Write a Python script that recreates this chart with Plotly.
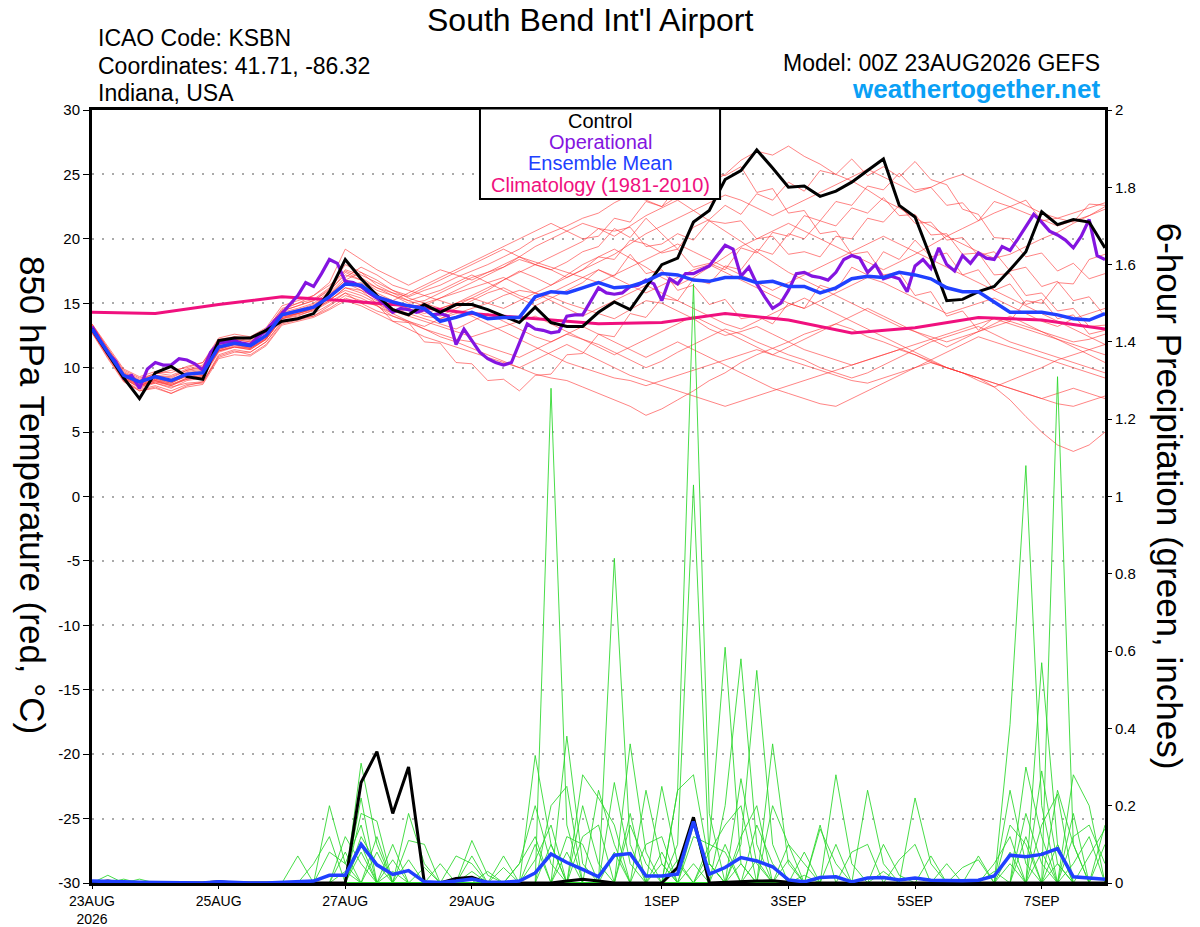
import pandas as pd
import plotly.graph_objects as go

# GEFS 00Z 23AUG2026 run, 6-hourly out to 384 h (operational GFS every 3 h)
run_start = '2026-08-23 00:00'
times_6h = pd.date_range(run_start, periods=65, freq='6h')
times_3h = pd.date_range(run_start, periods=129, freq='3h')
clim_days = pd.date_range(run_start, periods=17, freq='D')

tick_dates = ['2026-08-23', '2026-08-25', '2026-08-27', '2026-08-29', '2026-09-01',
              '2026-09-03', '2026-09-05', '2026-09-07']
tick_text = ['23AUG<br>2026', '25AUG', '27AUG', '29AUG', '1SEP', '3SEP', '5SEP', '7SEP']
temp_ticks = [-30, -25, -20, -15, -10, -5, 0, 5, 10, 15, 20, 25, 30]
temp_tick_text = ['-30', '-25', '-20', '-15', '-10', '-5', '0', '5', '10', '15', '20', '25', '30']

key_labels = ['Control', 'Operational', 'Ensemble Mean', 'Climatology (1981-2010)']

# ---- 850 hPa temperature (C) ----
control_t = [13.0, 11.1, 9.2, 7.6, 9.6, 10.1, 9.3, 9.1, 12.1, 12.3, 12.3, 12.9, 13.6, 13.8, 14.2, 15.9,
             18.4, 16.9, 15.6, 14.5, 14.1, 14.9, 14.3, 14.9, 14.9, 14.5, 14.0, 13.5, 14.7, 13.5, 13.2, 13.2,
             14.3, 15.1, 14.5, 16.3, 18.0, 18.5, 21.3, 22.2, 24.6, 25.3, 26.9, 25.5, 24.0, 24.1, 23.3, 23.7,
             24.4, 25.3, 26.2, 22.6, 21.7, 18.5, 15.2, 15.3, 15.9, 16.3, 17.6, 19.0, 22.1, 21.1, 21.5, 21.3, 19.3]

mean_t = [13.0, 11.2, 9.4, 8.9, 9.3, 9.0, 9.5, 9.6, 11.6, 11.9, 11.7, 12.5, 14.1, 14.4, 14.7, 15.5,
          16.5, 16.4, 15.5, 15.1, 14.8, 14.6, 13.6, 13.9, 14.3, 13.8, 13.9, 13.9, 15.5, 15.9, 15.8, 16.2,
          16.6, 16.2, 16.3, 16.7, 17.3, 17.2, 16.8, 16.7, 17.0, 17.0, 16.6, 16.7, 16.3, 16.3, 15.8, 16.2,
          16.9, 17.1, 17.0, 17.4, 17.2, 16.9, 16.2, 15.9, 15.9, 15.1, 14.3, 14.3, 14.3, 14.1, 13.8, 13.7, 14.2]

operational_t = [13.2, 12.1, 11.1, 10.5, 9.2, 9.4, 8.4, 9.9, 10.4, 10.2,
                 10.2, 10.7, 10.6, 10.3, 9.8, 11.2, 11.9, 12.0, 12.1, 11.9,
                 11.8, 12.4, 12.9, 13.6, 14.2, 14.9, 15.6, 16.6, 16.3, 17.3,
                 18.4, 18.1, 16.7, 16.6, 16.3, 15.8, 15.4, 14.9, 14.3, 14.6,
                 14.5, 14.3, 14.5, 14.1, 14.2, 14.0, 11.8, 13.0, 12.1, 11.2,
                 10.7, 10.4, 10.2, 10.4, 11.9, 13.4, 13.0, 12.9, 12.7, 12.8,
                 14.0, 14.1, 14.1, 15.2, 16.2, 15.8, 15.7, 15.8, 16.3, 16.4,
                 16.8, 16.5, 15.2, 16.9, 16.5, 17.3, 17.3, 17.6, 17.9, 18.7,
                 19.5, 19.2, 17.1, 17.8, 16.5, 15.5, 14.6, 15.0, 16.0, 17.3,
                 17.4, 17.1, 17.0, 16.8, 17.4, 18.4, 18.7, 18.5, 17.4, 18.0,
                 16.9, 17.1, 16.9, 15.9, 17.9, 18.4, 17.7, 19.3, 18.0, 17.5,
                 18.7, 18.1, 18.9, 18.5, 18.4, 19.4, 19.1, 20.0, 20.9, 21.9,
                 21.3, 20.6, 20.3, 19.9, 19.3, 20.2, 21.5, 18.7, 18.4]

climatology_t = [14.3, 14.2, 14.9, 15.5, 15.2, 14.8, 14.2, 13.8, 13.4, 13.5, 14.2, 13.7,
                 12.7, 13.1, 13.9, 13.7, 13.0]

t_mem01 = [13.4, 11.5, 9.8, 9.2, 9.5, 9.8, 10.0, 10.4, 12.0, 12.4, 12.3, 13.0, 14.5, 15.0, 15.6, 16.4,
           17.5, 17.0, 16.2, 15.8, 15.5, 16.0, 16.4, 17.0, 17.5, 18.0, 18.6, 19.2, 20.0, 20.5, 21.0, 21.6,
           22.0, 22.8, 23.4, 23.0, 22.5, 23.3, 24.0, 24.3, 25.0, 26.1, 26.8, 26.5, 27.2, 26.4, 25.8, 25.0,
           24.5, 23.8, 23.0, 22.4, 21.6, 21.0, 20.2, 19.6, 19.0, 18.5, 18.8, 19.4, 20.0, 20.5, 21.2, 21.8, 22.3]
t_mem02 = [12.8, 10.8, 9.0, 8.2, 8.5, 8.0, 8.6, 8.9, 11.0, 11.4, 11.2, 12.0, 13.5, 13.8, 14.0, 14.8,
           15.6, 15.2, 14.8, 14.0, 13.5, 13.0, 12.4, 12.0, 11.5, 11.0, 10.5, 10.0, 9.5, 9.2, 9.0, 8.5,
           8.0, 7.5, 7.0, 6.3, 6.8, 7.5, 8.2, 9.0, 9.6, 10.4, 11.0, 11.5, 12.0, 12.6, 13.0, 13.4,
           13.0, 12.4, 12.0, 11.5, 11.0, 10.4, 10.0, 9.6, 9.0, 8.5, 9.0, 9.5, 10.0, 10.6, 11.0, 11.4, 11.8]
t_mem03 = [13.2, 11.0, 9.5, 8.8, 9.0, 8.6, 9.2, 9.4, 11.4, 11.8, 11.5, 12.2, 13.8, 14.0, 14.5, 15.2,
           16.2, 16.0, 15.4, 15.0, 14.6, 14.0, 13.8, 14.2, 14.6, 15.0, 15.6, 16.0, 15.8, 15.5, 15.0, 14.6,
           14.2, 13.8, 14.5, 15.2, 15.0, 14.4, 13.8, 13.0, 12.5, 12.8, 13.2, 12.6, 12.0, 11.4, 11.0, 10.6,
           10.2, 10.6, 11.0, 11.4, 11.0, 10.5, 10.0, 9.6, 9.2, 8.5, 7.5, 6.2, 5.0, 4.0, 3.5, 4.0, 5.0]
t_mem04 = [13.0, 11.3, 9.6, 9.0, 9.4, 9.2, 9.8, 10.0, 11.8, 12.2, 12.0, 12.8, 14.4, 14.8, 15.2, 16.0,
           17.2, 16.8, 16.0, 15.6, 15.0, 15.2, 15.8, 16.4, 17.0, 17.4, 17.8, 18.4, 18.0, 17.6, 18.2, 19.0,
           19.4, 20.8, 20.1, 21.6, 20.4, 19.2, 20.9, 21.5, 22.6, 21.9, 23.5, 23.0, 24.4, 23.7, 25.3, 25.0,
           26.2, 24.9, 25.6, 24.8, 26.0, 24.6, 24.2, 22.3, 21.9, 20.1, 20.0, 18.6, 18.9, 17.5, 18.1, 16.9, 17.3]
t_mem05 = [12.9, 11.0, 9.3, 8.6, 9.0, 8.8, 9.4, 9.6, 11.5, 11.8, 11.6, 12.4, 14.0, 14.3, 14.8, 15.8,
           17.0, 17.8, 17.2, 16.4, 16.0, 15.6, 15.2, 14.8, 15.4, 16.0, 16.8, 17.5, 17.0, 16.4, 17.2, 18.0,
           18.6, 19.2, 18.5, 17.8, 17.0, 16.4, 17.0, 17.8, 18.6, 19.4, 20.0, 20.6, 21.2, 20.6, 20.0, 19.4,
           18.8, 18.2, 17.6, 18.2, 18.8, 19.5, 20.2, 20.8, 21.4, 22.0, 22.5, 22.0, 21.5, 21.0, 21.4, 21.8, 22.5]
t_mem06 = [13.1, 11.2, 9.2, 8.4, 8.8, 8.4, 9.0, 9.2, 11.2, 11.6, 11.4, 12.2, 13.8, 14.2, 14.6, 15.4,
           16.6, 16.0, 15.0, 14.2, 13.6, 13.0, 12.6, 12.2, 12.0, 11.6, 11.2, 10.8, 11.4, 12.0, 12.6, 12.2,
           11.8, 11.2, 10.6, 10.0, 10.5, 11.2, 11.8, 12.4, 13.0, 12.6, 12.0, 11.5, 11.0, 10.6, 10.0, 9.6,
           9.2, 9.6, 10.2, 10.8, 11.4, 12.0, 12.4, 12.8, 13.2, 12.6, 12.0, 11.6, 11.2, 10.8, 10.4, 10.0, 9.6]
t_mem07 = [13.3, 11.4, 9.6, 9.0, 9.6, 9.4, 9.9, 10.2, 12.2, 12.4, 12.2, 12.9, 14.6, 15.0, 15.3, 16.2,
           18.0, 17.4, 16.4, 15.8, 15.2, 14.8, 15.4, 16.0, 16.6, 17.2, 17.8, 18.6, 19.4, 20.0, 20.6, 21.2,
           20.8, 20.2, 21.0, 21.8, 22.4, 23.0, 22.2, 21.4, 20.6, 19.8, 19.0, 18.2, 17.4, 16.8, 16.2, 15.6,
           15.0, 14.4, 13.8, 13.2, 12.8, 12.4, 12.0, 12.4, 12.8, 13.2, 13.6, 13.2, 12.8, 12.4, 12.0, 12.2, 12.6]
t_mem08 = [12.7, 10.9, 9.1, 8.5, 8.9, 8.7, 9.1, 9.3, 11.3, 11.6, 11.5, 12.3, 13.9, 14.2, 14.6, 15.4,
           16.4, 16.6, 15.8, 15.2, 14.8, 14.4, 14.0, 14.6, 15.2, 15.8, 16.2, 15.6, 15.2, 15.8, 16.4, 17.0,
           17.6, 17.0, 16.4, 15.8, 16.4, 17.0, 17.6, 18.0, 17.4, 16.8, 16.2, 15.6, 15.0, 14.6, 15.2, 15.8,
           16.4, 17.0, 16.6, 16.0, 15.4, 14.8, 14.2, 14.6, 15.0, 15.4, 14.8, 14.2, 13.6, 13.2, 13.8, 14.2, 14.6]
t_mem09 = [13.0, 11.1, 9.3, 8.7, 8.8, 8.5, 8.8, 8.9, 10.8, 11.2, 11.2, 12.0, 13.6, 13.9, 14.2, 14.9,
           15.8, 15.0, 14.9, 13.6, 13.5, 12.0, 11.9, 10.4, 10.3, 9.0, 9.1, 8.2, 9.4, 9.5, 11.0, 11.1,
           12.6, 12.4, 14.2, 13.9, 15.4, 15.2, 16.9, 16.5, 17.9, 17.6, 19.2, 18.8, 20.4, 20.0, 21.4, 21.0,
           22.4, 22.0, 23.2, 21.8, 21.9, 20.3, 20.4, 18.8, 18.9, 17.2, 17.3, 15.6, 15.8, 14.4, 14.6, 13.2, 13.3]
t_mem10 = [13.1, 11.3, 9.5, 8.9, 9.3, 9.1, 9.6, 9.8, 11.8, 12.0, 11.8, 12.6, 14.2, 14.5, 14.9, 15.7,
           16.8, 17.4, 16.8, 16.0, 15.4, 15.0, 14.6, 15.0, 15.6, 16.2, 16.8, 17.4, 18.0, 17.6, 17.0, 17.6,
           18.2, 18.8, 19.6, 20.4, 21.0, 21.6, 22.2, 22.8, 23.4, 23.0, 22.4, 21.8, 22.4, 23.0, 23.6, 24.2,
           24.8, 25.4, 24.8, 24.2, 23.6, 24.0, 24.6, 25.0, 24.4, 23.8, 23.2, 22.6, 22.0, 21.6, 22.0, 22.4, 22.8]
t_mem11 = [12.9, 11.0, 9.2, 8.6, 9.1, 8.9, 9.3, 9.5, 11.4, 11.8, 11.6, 12.4, 14.0, 14.2, 14.5, 15.2,
           16.2, 15.8, 15.2, 14.6, 14.2, 13.8, 13.4, 13.0, 13.6, 14.2, 13.6, 13.0, 12.4, 12.0, 12.6, 13.2,
           12.6, 12.0, 11.4, 10.8, 11.4, 12.0, 11.4, 10.8, 10.2, 9.6, 9.0, 8.4, 8.0, 7.6, 7.2, 7.0,
           7.6, 8.2, 8.8, 9.4, 10.0, 10.6, 11.2, 11.8, 12.4, 12.0, 11.6, 11.2, 10.8, 10.4, 10.0, 9.6, 9.2]
t_mem12 = [13.2, 11.2, 9.4, 8.8, 9.2, 9.0, 9.7, 9.9, 11.9, 12.2, 12.0, 12.7, 14.3, 14.6, 15.0, 15.9,
           17.4, 16.8, 16.2, 15.6, 15.2, 15.6, 16.0, 16.6, 17.2, 16.6, 16.0, 15.4, 14.8, 15.4, 16.0, 16.6,
           17.6, 17.1, 18.8, 17.3, 17.6, 16.0, 16.4, 14.9, 15.3, 13.8, 14.0, 13.4, 15.0, 14.6, 16.4, 16.0,
           17.8, 17.2, 19.0, 18.4, 19.9, 18.6, 18.9, 17.2, 17.6, 16.0, 16.5, 14.9, 15.3, 13.8, 14.1, 12.6, 12.9]
t_mem13 = [12.8, 10.9, 9.0, 8.3, 8.6, 8.2, 8.7, 8.8, 10.9, 11.3, 11.0, 11.8, 13.4, 13.7, 14.0, 14.6,
           15.4, 15.0, 14.4, 14.0, 13.6, 13.2, 13.8, 14.4, 14.0, 13.4, 12.8, 12.2, 11.6, 11.0, 10.4, 10.0,
           9.6, 9.2, 9.0, 8.6, 9.0, 9.4, 9.8, 10.2, 10.6, 11.0, 11.4, 11.0, 10.6, 10.2, 9.8, 9.4,
           9.0, 8.8, 9.2, 9.6, 10.0, 10.4, 10.0, 9.6, 9.2, 8.8, 8.4, 8.0, 7.6, 7.2, 7.0, 7.4, 7.8]
t_mem14 = [13.0, 11.2, 9.4, 8.8, 9.2, 8.9, 9.5, 9.7, 11.7, 12.0, 11.8, 12.6, 14.2, 14.4, 14.8, 15.6,
           16.8, 16.2, 15.6, 15.2, 15.8, 16.4, 17.0, 17.6, 18.2, 18.8, 19.4, 20.0, 20.6, 21.2, 20.6, 20.0,
           20.2, 21.6, 21.3, 22.9, 22.5, 24.1, 23.6, 25.2, 24.9, 25.6, 23.6, 23.9, 22.0, 22.2, 20.4, 20.6,
           18.8, 19.0, 17.2, 17.4, 15.6, 15.9, 14.0, 14.4, 12.9, 13.9, 13.6, 15.2, 15.0, 16.6, 16.5, 18.4, 18.8]
t_mem15 = [13.1, 11.1, 9.3, 8.6, 9.0, 8.7, 9.2, 9.4, 11.3, 11.7, 11.5, 12.3, 13.9, 14.2, 14.6, 15.3,
           16.0, 15.6, 15.0, 14.4, 14.0, 13.6, 13.2, 12.8, 12.4, 12.8, 13.2, 13.6, 14.0, 13.4, 12.8, 12.2,
           11.6, 11.0, 11.6, 12.2, 12.8, 13.4, 14.0, 13.4, 12.8, 12.2, 11.6, 11.0, 11.6, 12.2, 12.8, 13.4,
           14.0, 14.6, 14.0, 13.4, 12.8, 12.2, 11.6, 12.2, 12.8, 13.4, 14.0, 13.4, 12.8, 12.2, 11.6, 11.0, 10.4]
t_mem16 = [13.3, 11.5, 9.7, 9.1, 9.4, 9.3, 9.8, 10.1, 12.0, 12.3, 12.1, 12.8, 14.4, 14.8, 15.2, 16.1,
           17.6, 17.2, 16.6, 16.0, 15.6, 16.2, 16.8, 17.4, 18.0, 18.6, 19.2, 18.6, 18.0, 18.6, 19.2, 19.8,
           20.8, 20.6, 20.9, 19.4, 19.6, 20.4, 19.9, 21.4, 21.2, 21.4, 20.0, 20.2, 18.8, 19.0, 18.6, 20.2,
           20.0, 21.6, 21.3, 22.6, 21.2, 21.3, 19.9, 20.1, 18.7, 19.0, 17.5, 17.8, 16.3, 16.7, 15.2, 15.5, 14.0]
t_mem17 = [12.7, 10.7, 8.9, 8.2, 8.4, 8.0, 8.5, 8.7, 10.7, 11.0, 10.9, 11.7, 13.3, 13.6, 13.9, 14.5,
           15.2, 14.8, 14.2, 13.6, 13.0, 12.4, 12.0, 11.6, 11.2, 10.8, 10.4, 10.0, 10.6, 11.2, 11.8, 11.2,
           10.6, 10.0, 9.4, 9.0, 8.6, 8.2, 7.8, 7.4, 7.0, 7.4, 7.8, 8.2, 8.6, 9.0, 9.4, 9.8,
           10.2, 10.6, 11.0, 11.4, 11.8, 12.2, 12.6, 13.0, 13.4, 13.8, 13.4, 13.0, 12.6, 12.2, 11.8, 11.4, 11.0]
t_mem18 = [13.4, 11.6, 9.9, 9.3, 9.7, 9.6, 10.1, 10.4, 12.3, 12.6, 12.4, 13.1, 14.8, 15.2, 15.6, 16.6,
           19.2, 18.4, 17.6, 17.0, 16.4, 17.0, 17.6, 17.2, 16.8, 17.4, 18.0, 18.6, 18.2, 17.8, 17.4, 17.0,
           16.6, 17.2, 17.8, 18.4, 19.0, 19.6, 19.0, 18.4, 17.8, 17.2, 16.6, 16.0, 16.6, 17.2, 17.8, 18.4,
           19.0, 19.6, 20.2, 19.6, 19.0, 18.4, 17.8, 17.2, 16.6, 16.0, 15.4, 14.8, 14.2, 13.6, 13.0, 12.4, 11.8]
t_mem19 = [12.9, 11.0, 9.2, 8.5, 8.9, 8.6, 9.1, 9.3, 11.3, 11.6, 11.4, 12.2, 13.8, 14.1, 14.4, 15.1,
           15.8, 15.4, 14.8, 14.2, 14.6, 15.0, 15.4, 15.8, 16.2, 16.6, 17.0, 16.4, 15.8, 15.2, 14.6, 14.0,
           14.6, 15.2, 15.8, 16.4, 15.8, 15.2, 14.6, 14.0, 13.4, 13.0, 13.6, 14.2, 14.8, 15.4, 14.8, 14.2,
           13.6, 13.0, 12.4, 11.8, 11.2, 10.6, 10.0, 9.6, 9.2, 8.8, 8.4, 8.0, 7.6, 8.0, 8.4, 8.0, 7.6]
t_mem20 = [13.0, 11.2, 9.4, 8.7, 9.1, 8.8, 9.4, 9.6, 11.6, 11.9, 11.7, 12.5, 14.1, 14.4, 14.7, 15.5,
           16.6, 16.2, 15.6, 15.0, 14.6, 14.2, 14.6, 15.0, 15.4, 15.0, 14.6, 15.2, 15.8, 16.4, 17.0, 17.6,
           18.6, 18.4, 19.9, 19.6, 18.9, 19.2, 17.8, 18.1, 17.6, 19.3, 18.9, 20.5, 20.2, 21.8, 21.4, 22.9,
           22.6, 24.1, 23.8, 25.1, 23.8, 24.0, 22.6, 22.8, 21.4, 22.9, 22.5, 23.0, 21.4, 21.6, 21.3, 22.7, 22.6]

temp_members = [t_mem01, t_mem02, t_mem03, t_mem04, t_mem05, t_mem06, t_mem07, t_mem08, t_mem09, t_mem10,
                t_mem11, t_mem12, t_mem13, t_mem14, t_mem15, t_mem16, t_mem17, t_mem18, t_mem19, t_mem20]

# ---- 6-hour precipitation (inches) ----
control_p = [0, .005, 0, 0, 0, 0, 0, 0, .003, 0, 0, 0, 0, 0, 0, 0,
             0, .26, .34, .18, .30, 0, 0, .012, .015, 0, 0, 0, 0, 0, .005, .01,
             .005, 0, 0, 0, 0, .04, .17, 0, .002, .003, .005, .006, .002, 0, 0, 0,
             0, 0, 0, 0, 0, 0, 0, 0, 0, 0, 0, 0, 0, 0, 0, 0, 0]

mean_p = [.005, .005, .003, .002, .001, 0, 0, 0, .003, .001, 0, 0, .001, .003, .005, .02,
          .02, .10, .047, .022, .032, .003, .001, .005, .01, .002, .002, .005, .026, .075, .053, .035,
          .016, .072, .076, .018, .018, .023, .159, .023, .04, .066, .057, .042, .008, .003, .014, .016,
          .003, .013, .014, .008, .013, .007, .006, .006, .007, .018, .072, .068, .074, .089, .016, .012, .01]

p_mem01 = [0, 0, 0, 0, 0, 0, 0, 0, 0, 0, 0, 0, 0, 0, 0, 0,
           0, .31, .1, 0, 0, 0, 0, 0, 0, 0, 0, 0, 0, 1.28, .15, 0,
           0, 0, 0, 0, 0, 0, .05, 0, 0, 0, 0, 0, 0, 0, 0, 0,
           0, 0, 0, 0, 0, 0, 0, 0, 0, 0, 0, .18, .05, 0, 0, 0, 0]
p_mem02 = [0, 0, 0, 0, 0, 0, 0, 0, 0, 0, 0, 0, 0, 0, 0, .2,
           .05, 0, 0, 0, 0, 0, 0, 0, 0, 0, 0, 0, .1, 0, 0, 0,
           0, .84, .1, 0, 0, 0, 0, 0, 0, .27, .05, 0, 0, 0, 0, 0,
           0, 0, 0, 0, 0, 0, 0, 0, 0, 0, 0, 0, 0, 1.31, .1, 0, 0]
p_mem03 = [0, 0, 0, 0, 0, 0, 0, 0, 0, 0, 0, 0, 0, 0, 0, 0,
           0, .18, .16, 0, 0, 0, 0, 0, 0, 0, 0, 0, 0, 0, 0, 0,
           0, 0, 0, 0, 0, .24, 1.55, .18, 0, 0, 0, 0, 0, 0, 0, 0,
           0, 0, 0, 0, .22, .05, 0, 0, 0, 0, 0, 0, 0, 0, .28, .2, 0]
p_mem04 = [0, 0, 0, 0, 0, 0, 0, 0, 0, 0, 0, 0, 0, 0, 0, 0,
           .12, .05, 0, 0, 0, 0, 0, 0, 0, 0, 0, 0, .33, .1, 0, 0,
           0, 0, 0, 0, 0, .1, 1.03, .05, 0, 0, 0, 0, 0, 0, 0, 0,
           0, 0, 0, 0, 0, 0, 0, 0, 0, 0, .41, 1.08, .2, 0, 0, 0, 0]
p_mem05 = [0, 0, 0, 0, 0, 0, 0, 0, 0, 0, 0, 0, 0, 0, 0, 0,
           0, 0, 0, 0, .18, .05, 0, 0, 0, 0, 0, 0, 0, 0, .38, .05,
           0, 0, 0, 0, 0, 0, 0, .1, .61, .05, 0, 0, 0, 0, 0, 0,
           0, 0, 0, 0, 0, 0, 0, 0, 0, 0, 0, 0, .57, .1, 0, 0, 0]
p_mem06 = [0, 0, 0, 0, 0, 0, 0, 0, 0, 0, 0, 0, 0, 0, .05, .12,
           0, 0, 0, 0, 0, 0, 0, 0, .11, .02, 0, 0, 0, 0, 0, .28,
           .22, .15, 0, 0, 0, 0, 0, 0, .2, .58, .1, 0, 0, 0, 0, 0,
           0, 0, 0, 0, 0, 0, 0, 0, 0, 0, 0, 0, 0, 0, 0, 0, .15]
p_mem07 = [0, 0, 0, 0, 0, 0, 0, 0, 0, 0, 0, 0, 0, 0, 0, 0,
           0, .22, 0, .1, 0, 0, 0, 0, 0, 0, 0, 0, 0, 0, 0, 0,
           0, 0, .36, .08, 0, 0, 0, 0, 0, .1, .55, .1, 0, 0, 0, 0,
           0, 0, 0, 0, 0, 0, 0, 0, 0, 0, .24, .05, 0, 0, 0, 0, .1]
p_mem08 = [0, 0, 0, 0, 0, 0, 0, 0, 0, 0, 0, 0, 0, .07, 0, 0,
           0, 0, .12, 0, 0, 0, 0, 0, 0, 0, .07, 0, 0, 0, 0, 0,
           0, 0, 0, .24, .05, 0, 0, 0, 0, 0, 0, .36, .05, 0, 0, .28,
           .05, 0, 0, 0, 0, 0, 0, 0, 0, 0, 0, 0, .29, .05, 0, 0, 0]
p_mem09 = [0, 0, 0, 0, 0, 0, 0, 0, 0, 0, 0, 0, 0, 0, 0, 0,
           0, 0, 0, 0, .11, .1, 0, 0, 0, 0, 0, 0, 0, 0, 0, 0,
           0, .26, .05, 0, .25, .05, 0, 0, 0, 0, 0, 0, 0, 0, .15, 0,
           0, .24, .05, 0, 0, 0, 0, 0, 0, 0, 0, 0, 0, .24, .1, 0, 0]
p_mem10 = [0, 0, 0, 0, 0, 0, 0, 0, 0, 0, 0, 0, 0, 0, 0, 0,
           0, 0, 0, 0, 0, 0, 0, .07, .05, 0, 0, 0, 0, 0, 0, .2,
           .05, 0, 0, 0, 0, .24, .28, .05, 0, 0, 0, 0, 0, .02, 0, 0,
           0, 0, 0, 0, 0, 0, 0, 0, .07, 0, 0, 0, 0, 0, .05, .12, 0]
p_mem11 = [0, .02, 0, 0, 0, 0, 0, 0, 0, 0, 0, 0, 0, 0, 0, .08,
           .05, .15, 0, 0, 0, 0, 0, 0, 0, 0, 0, .05, .2, .05, 0, 0,
           0, 0, 0, 0, 0, 0, 0, .08, .15, .2, 0, 0, 0, 0, 0, 0,
           0, 0, .1, .02, 0, 0, 0, 0, 0, 0, .15, .1, 0, 0, 0, 0, 0]
p_mem12 = [0, 0, 0, 0, 0, 0, 0, 0, 0, 0, 0, 0, 0, 0, 0, 0,
           0, 0, 0, 0, 0, 0, .05, 0, .07, 0, 0, 0, 0, 0, 0, 0,
           .24, .1, 0, 0, 0, 0, 0, 0, 0, 0, .15, .05, 0, 0, .14, .05,
           0, 0, 0, 0, 0, .07, 0, 0, 0, 0, 0, 0, .15, .23, 0, 0, 0]
p_mem13 = [0, 0, 0, .01, 0, 0, 0, 0, 0, 0, 0, 0, 0, 0, 0, 0,
           0, .12, .05, 0, 0, 0, 0, 0, 0, 0, 0, 0, 0, .2, .25, 0,
           0, 0, 0, .1, .12, 0, 0, 0, 0, 0, 0, 0, .1, .05, 0, 0,
           0, 0, 0, 0, 0, 0, 0, 0, 0, .05, .12, 0, 0, 0, 0, 0, 0]
p_mem14 = [0, 0, 0, 0, 0, 0, 0, 0, 0, 0, 0, 0, 0, 0, 0, 0,
           .08, 0, 0, .06, 0, 0, 0, 0, 0, 0, 0, 0, 0, 0, .12, .1,
           0, 0, 0, 0, 0, 0, .12, .1, .08, 0, 0, 0, 0, 0, 0, 0,
           .08, .1, 0, 0, 0, 0, 0, 0, 0, 0, 0, .3, .12, 0, 0, 0, 0]
p_mem15 = [0, 0, 0, 0, 0, 0, 0, 0, 0, 0, 0, 0, 0, 0, 0, 0,
           0, 0, 0, 0, 0, 0, 0, 0, 0, .03, 0, .05, .12, 0, 0, 0,
           0, 0, .15, .05, 0, 0, 0, 0, 0, .12, .2, 0, 0, 0, 0, 0,
           0, 0, 0, 0, 0, 0, 0, .04, .06, 0, 0, 0, 0, 0, .12, .15, .05]
p_mem16 = [0, 0, 0, 0, 0, 0, 0, 0, 0, 0, 0, 0, 0, 0, 0, 0,
           0, .08, 0, 0, .06, 0, 0, 0, 0, 0, 0, 0, 0, .1, 0, 0,
           0, .08, 0, 0, 0, 0, .15, 0, 0, 0, 0, .2, .1, 0, 0, 0,
           0, 0, 0, .06, .1, 0, 0, 0, 0, 0, 0, 0, 0, .1, 0, 0, 0]
p_mem17 = [0, 0, 0, 0, 0, 0, 0, 0, 0, 0, 0, 0, 0, 0, 0, 0,
           .03, 0, .08, 0, 0, 0, 0, 0, 0, 0, 0, 0, 0, 0, .08, 0,
           0, 0, 0, 0, .08, 0, 0, 0, .1, 0, 0, 0, 0, 0, 0, .1,
           0, 0, 0, 0, 0, 0, .05, 0, 0, 0, .08, 0, 0, 0, 0, .07, .14]
p_mem18 = [0, 0, .01, 0, 0, 0, 0, 0, 0, 0, 0, 0, 0, 0, 0, 0,
           0, 0, 0, 0, 0, .04, 0, 0, 0, 0, 0, 0, .06, .15, 0, 0,
           0, 0, 0, 0, 0, .06, 0, 0, 0, 0, .06, 0, 0, .08, 0, 0,
           0, 0, 0, 0, 0, 0, 0, 0, 0, 0, 0, .12, 0, 0, 0, 0, 0]
p_mem19 = [0, 0, 0, 0, 0, 0, 0, 0, 0, 0, 0, 0, 0, 0, 0, 0,
           0, 0, 0, .03, 0, 0, 0, 0, 0, 0, .04, 0, 0, 0, 0, .12,
           .15, 0, 0, 0, 0, 0, 0, .05, 0, 0, 0, 0, .06, 0, 0, 0,
           0, 0, 0, 0, 0, 0, 0, 0, 0, .03, 0, 0, .08, 0, .18, 0, 0]
p_mem20 = [0, 0, 0, 0, 0, 0, 0, 0, 0, 0, 0, 0, 0, 0, 0, 0,
           0, .1, 0, 0, 0, 0, 0, 0, .03, 0, 0, 0, 0, 0, 0, 0,
           0, 0, .18, 0, .05, 0, 0, 0, 0, .05, 0, 0, 0, 0, 0, 0,
           0, 0, .03, 0, 0, 0, 0, 0, 0, 0, .05, 0, 0, .05, 0, 0, 0]

precip_members = [p_mem01, p_mem02, p_mem03, p_mem04, p_mem05, p_mem06, p_mem07, p_mem08, p_mem09, p_mem10,
                  p_mem11, p_mem12, p_mem13, p_mem14, p_mem15, p_mem16, p_mem17, p_mem18, p_mem19, p_mem20]

FONT = 'Liberation Sans, Arial, Helvetica, sans-serif'
PURPLE = '#8414e0'
BLUE = '#2040ff'
PINK = '#f0107e'


def line(x, y, color, width, axis='y'):
    return go.Scatter(x=x, y=y, mode='lines', yaxis=axis, showlegend=False, hoverinfo='skip',
                      line=dict(color=color, width=width))


def create_meteogram():
    fig = go.Figure()

    # temperature members, then the highlighted runs
    for member in temp_members:
        fig.add_trace(line(times_6h, member, 'rgba(255,50,50,0.6)', 1))
    fig.add_trace(line(clim_days, climatology_t, PINK, 3))
    fig.add_trace(line(times_3h, operational_t, PURPLE, 3.2))
    fig.add_trace(line(times_6h, control_t, 'black', 3))
    fig.add_trace(line(times_6h, mean_t, BLUE, 3.5))

    # precipitation on the right axis
    for member in precip_members:
        fig.add_trace(line(times_6h, member, 'rgba(40,215,40,0.85)', 1, 'y2'))
    fig.add_trace(line(times_6h, control_p, 'black', 3, 'y2'))
    fig.add_trace(line(times_6h, mean_p, BLUE, 3.5, 'y2'))

    fig.update_layout(
        width=1200, height=927,
        margin=dict(l=92, r=95, t=110, b=44),
        paper_bgcolor='white', plot_bgcolor='white',
        font=dict(family=FONT, color='black', size=15),
        xaxis=dict(type='date', range=['2026-08-23 00:00', '2026-09-08 00:00'],
                   tickvals=tick_dates, ticktext=tick_text, tickfont=dict(size=14),
                   showgrid=False, zeroline=False, showline=True, mirror=True, automargin=False,
                   linecolor='black', linewidth=3, ticks='outside', ticklen=3, tickcolor='black'),
        yaxis=dict(range=[-30, 30], tickvals=temp_ticks, ticktext=temp_tick_text,
                   showgrid=True, gridcolor='#aaaaaa',
                   griddash='2px,8px', gridwidth=1.5, zeroline=False, showline=True, mirror=True,
                   automargin=False, linecolor='black', linewidth=3, ticks='outside', ticklen=6,
                   tickcolor='black'),
        yaxis2=dict(range=[0, 2], dtick=0.2, overlaying='y', side='right', showgrid=False,
                    zeroline=False, showline=False, automargin=False, ticks='outside', ticklen=6,
                    tickcolor='black'),
    )

    def note(text, x, y, size, xanchor='left', color='black', bold=False, angle=0):
        if bold:
            text = '<b>' + text + '</b>'
        fig.add_annotation(text=text, x=x, y=y, xref='paper', yref='paper', xanchor=xanchor,
                           yanchor='middle', showarrow=False, textangle=angle,
                           font=dict(family=FONT, size=size, color=color))

    note("South Bend Int'l Airport", 0.4916, 1.117, 32, xanchor='center')
    note('ICAO Code: KSBN', 0.004, 1.093, 23)
    note('Coordinates: 41.71, -86.32', 0.004, 1.057, 23)
    note('Indiana, USA', 0.004, 1.022, 23)
    note('Model: 00Z 23AUG2026 GEFS', 0.997, 1.061, 23, xanchor='right')
    note('weathertogether.net', 0.997, 1.027, 26, xanchor='right', color='#0aa0f5', bold=True)
    note('850 hPa Temperature (red, °C)', -0.0592, 0.502, 35, xanchor='center', angle=90)
    note('6-hour Precipitation (green, inches)', 1.064, 0.5, 35, xanchor='center', angle=90)

    # key box in the top middle of the plot
    fig.add_shape(type='rect', xref='paper', yref='paper', x0=0.383, x1=0.620, y0=0.885, y1=1.002,
                  fillcolor='white', line=dict(color='black', width=2))
    key_colors = ['black', PURPLE, BLUE, PINK]
    key_y = [0.9858, 0.9586, 0.9314, 0.9030]
    for label, color, y in zip(key_labels, key_colors, key_y):
        note(label, 0.5015, y, 20, xanchor='center', color=color)
    return fig


if __name__ == '__main__':
    fig = create_meteogram()
    # drop the default body margin so the 1200x927 figure fills the window exactly
    fig.write_html('out.html', config={'displayModeBar': False},
                   post_script="document.body.style.margin='0px';")
